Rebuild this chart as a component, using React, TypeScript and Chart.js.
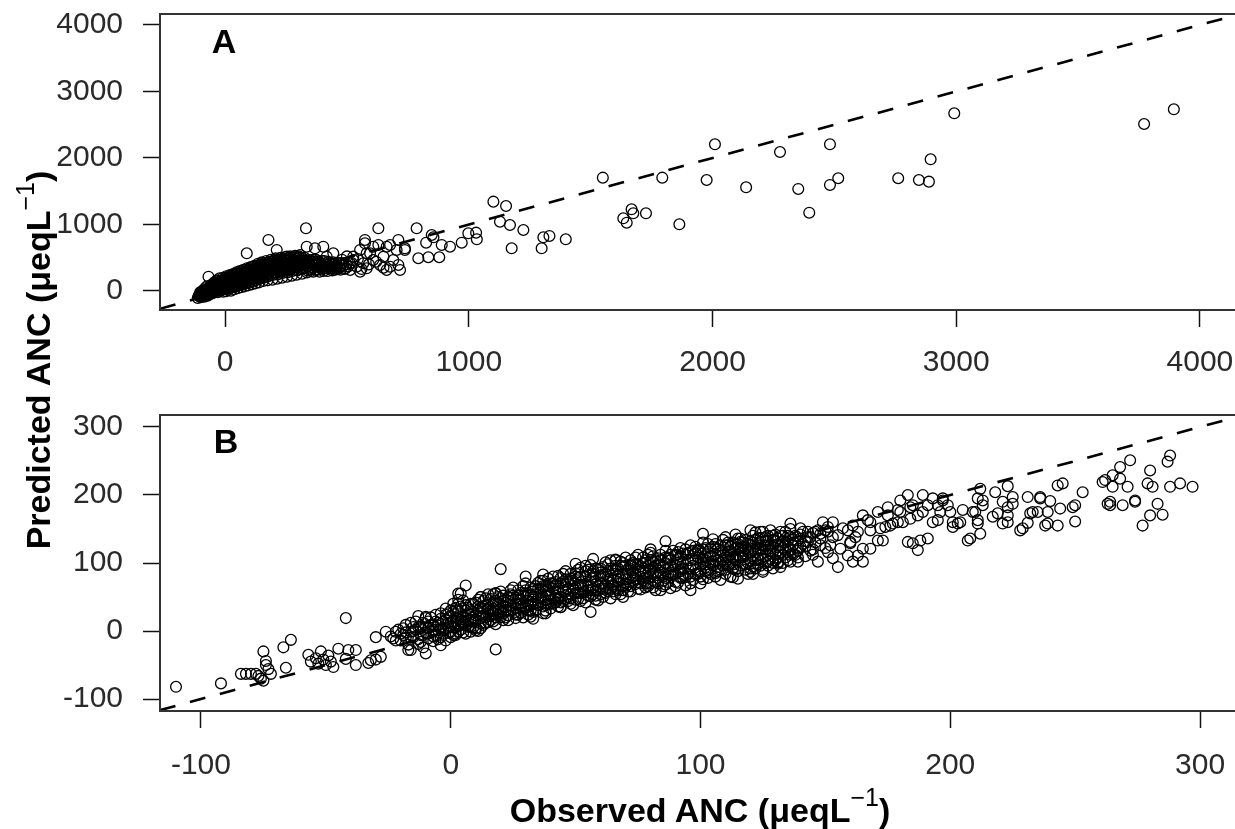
import React, { useEffect, useRef } from 'react';
import { Chart, registerables } from 'chart.js';

Chart.register(...registerables);

const FONT = '"Liberation Sans", Arial, Helvetica, sans-serif';

// ---------------- Panel A (full range) ----------------
const ticksA = [0, 1000, 2000, 3000, 4000];
const xRangeA = [-267, 4226];
const yRangeA = [-286, 4165];
const oneToOneA = [-267, 4300];

// dense wedge near the origin
const aWedge: [number, number][] = [
  [-112,-105],[-105,-80],[-98,-40],[-100,-95],[-92,-60],[-88,-20],[-85,-85],[-80,10],[-78,-50],[-72,-70],[-70,30],[-66,-15],[-62,60],[-60,-45],[-55,15],[-52,95],[-50,-30],[-46,50],[-42,-5],[-40,120],[-36,80],[-33,25],[-30,-20],[-28,150],[-24,100],[-20,55],[-18,5],[-14,130],[-10,170],[-8,-10],[-6,80],[-2,30],[0,120],[2,190],[4,-5],[6,65],[9,150],[12,20],[14,100],[16,210],[19,45],[22,170],[24,5],[27,120],[30,240],[32,70],[35,185],[38,25],[40,140],[43,260],[45,90],[48,210],[51,40],[54,160],[57,280],[60,110],[62,230],[65,55],[68,180],[71,300],[74,130],[77,250],[80,70],[83,200],[86,320],[89,150],[92,270],[95,85],[98,220],[101,340],[104,165],[107,290],[110,100],[113,240],[116,360],[119,180],[122,310],[125,115],[128,255],[131,380],[134,195],[137,330],[140,130],[143,270],[146,400],[150,210],[153,345],[156,150],[160,290],[164,420],[167,230],[171,360],[174,160],[178,300],[182,440],[186,240],[190,380],[194,170],[198,320],[202,460],[206,260],[210,400],[214,185],[218,335],[222,470],[226,275],[230,410],[234,200],[238,350],[242,480],[246,290],[250,420],[254,215],[258,365],[262,500],[266,305],[270,440],[274,230],[278,380],[282,510],[286,320],[290,455],[294,245],[298,395],[302,520],[306,330],[310,465],[316,260],[320,410],[326,500],[330,345],[336,280],[340,440],[346,380],[352,300],[358,470],[364,410],[370,320],[376,440],[382,360],[388,290],[394,400],[400,330],[408,450],[414,370],[420,300],[428,410],[436,340],[444,430],[452,320],[460,390],[470,350],[478,420],[488,330],[496,400]
];

const aWedge2: [number, number][] = [
  [-108,-70],[-102,-20],[-95,-75],[-90,10],[-86,-45],[-82,40],[-76,-25],[-74,70],[-68,-55],[-65,40],[-61,-10],[-58,90],[-54,-35],[-50,60],[-47,5],[-44,130],[-39,30],[-36,-15],[-34,160],[-31,55],[-27,10],[-25,120],[-22,190],[-19,80],[-16,30],[-12,150],[-9,200],[-6,40],[-3,110],[0,60],[3,160],[5,220],[8,95],[11,40],[13,180],[15,130],[18,75],[20,240],[23,135],[25,50],[28,200],[31,105],[33,255],[36,150],[39,60],[41,210],[44,120],[47,280],[49,170],[52,80],[55,230],[58,140],[61,300],[63,190],[66,90],[69,250],[72,160],[75,320],[78,210],[81,110],[84,270],[87,180],[90,340],[93,230],[96,120],[99,290],[102,200],[105,360],[108,250],[111,140],[114,310],[117,220],[120,380],[123,270],[126,160],[129,330],[132,240],[135,410],[138,290],[141,180],[144,350],[148,260],[151,430],[155,300],[158,200],[162,380],[165,270],[169,450],[172,330],[176,220],[180,400],[184,300],[188,470],[192,350],[196,240],[200,420],[204,320],[208,490],[212,360],[216,250],[220,440],[224,330],[228,500],[232,380],[236,270],[240,450],[244,340],[248,510],[252,390],[256,280],[260,460],[264,350],[268,520],[272,400],[276,300],[280,470],[284,360],[288,530],[292,420],[296,310],[300,480],[304,370],[308,540],[312,430],[318,340],[322,480],[328,380],[334,460],[338,310],[344,420],[350,350],[356,430],[362,290],[368,380],[374,470],[380,320],[386,420],[392,350],[398,450],[404,300],[410,400],[418,340],[424,440],[432,370],[440,310],[448,400],[456,350],[466,420],[474,320],[484,380],[494,340]
];

const aFill: [number, number][] = [
  [-104,-60],[-96,-15],[-90,-70],[-84,-10],[-79,-30],[-75,20],[-69,-40],[-64,10],[-59,50],[-56,-20],[-51,30],[-48,75],[-44,0],[-40,55],[-37,105],[-32,40],[-29,85],[-26,135],[-22,25],[-18,100],[-15,60],[-11,115],[-8,160],[-4,75],[-1,140],[2,100],[5,175],[8,40],[10,125],[13,70],[16,160],[19,110],[21,200],[24,90],[27,150],[29,215],[32,120],[35,80],[37,200],[40,165],[43,105],[46,240],[48,140],[51,190],[54,110],[57,225],[60,170],[63,260],[65,130],[68,215],[71,155],[74,280],[77,195],[80,145],[83,240],[86,170],[89,290],[92,200],[95,255],[98,160],[101,310],[104,230],[107,190],[110,280],[113,200],[116,320],[119,250],[122,210],[125,340],[128,290],[131,230],[134,360],[137,260],[140,310],[143,220],[146,370],[150,280],[153,240],[156,400],[160,330],[164,260],[168,390],[172,290],[176,420],[180,340],[184,270],[188,410],[192,310],[196,440],[200,360],[204,280],[208,430],[212,330],[216,460],[220,380],[224,300],[228,440],[232,350],[236,470],[240,400],[244,320],[248,460],[252,350],[256,490],[260,410],[264,330],[268,480],[272,370],[276,450],[280,400],[284,500],[288,390],[292,480],[296,350],[300,430],[305,500],[310,380],[316,450],[322,360],[330,420],[338,370],[346,460],[354,330],[362,440],[372,400],[384,450],[396,380],[406,340],[416,420],[426,360],[438,400],[450,370],[462,330]
];

// looser cloud just right of the wedge
const aCloud: [number, number][] = [
  [526,466],[540,365],[567,416],[513,316],[554,290],[581,341],[608,466],[636,391],[663,316],[690,466],[677,692],[629,692],[574,717],[595,567],[704,617],[718,316],[500,520],[520,420],[545,480],[560,330],[590,400],[620,440],[650,350],[480,470],[505,370]
];

// individually visible circles
const aSpread: [number, number][] = [
  [-68,215],[89,567],[178,767],[212,617],[332,943],[335,666],[369,642],[403,666],[444,567],[458,365],[513,416],[574,767],[608,666],[629,943],[650,516],[677,365],[711,391],[663,666],[711,767],[738,642],[581,567],[554,617],[526,516],[376,416],[417,516],[253,516],[280,416],
  [738,617],[786,943],[793,492],[834,507],[879,507],[825,726],[848,842],[855,807],[889,692],[923,666],[971,726],[998,867],[1030,877],[1033,777],[1101,1343],[1153,1278],[1128,1042],[1169,992],[1224,917],[1176,642],[1299,642],[1306,807],[1331,827],[1398,777],[1550,1704],[1634,1093],[1648,1027],[1668,1228],[1675,1168],[1727,1168],[1794,1704],[1864,1003],[1976,1669],[2010,2206],[2138,1559],[2277,2090],[2352,1534],[2397,1177],
  [2482,2206],[2482,1594],[2516,1695],[2762,1695],[2847,1669],[2888,1644],[2895,1980],[2992,2672],[3771,2511],[3893,2732]
];

// ---------------- Panel B (zoomed range) ----------------
const ticksB = [-100, 0, 100, 200, 300];
const xRangeB = [-116.4, 322];
const yRangeB = [-117.6, 317.6];
const oneToOneB = [-116.4, 340];

const bTail: [number, number][] = [
  [-110,-82],[-92,-77],[-84,-63],[-82,-63],[-80,-63],[-78,-63],[-75,-30],[-74,-44],[-74,-50],[-73,-56],[-77,-66],[-76,-70],[-75,-73],[-72,-63],[-67,-24],[-64,-13],[-66,-54],[-42,19],
  [-57,-35],[-56,-45],[-54,-40],[-53,-48],[-52,-30],[-51,-42],[-50,-50],[-49,-36],[-48,-45],[-47,-53],[-45,-26],[-41,-28],[-42,-41],[-38,-28],[-38,-50],[-33,-47],[-30,-42],[-30,-9],[-26,-1],[-22,-1],[-16,-28],[-13,22],
  [-23,-11],[-20,-4],[-15,-9],[-12,6],[-10,21],[-7,8],[-4,26],[-2,16],[1,6],[2,30],[-17,-28],[-10,-33],[-4,-21],[0,-9],[3,55],[3,40],[-28,-38],[-32,-43],[18,-27],[2,-4],[10,1]
];

const bBand: [number, number][] = [
  [-22,-14],[-21,2],[-19,-6],[-18,9],[-17,-20],[-16,-1],[-14,14],[-13,-12],[-12,4],[-11,-24],[-10,19],[-9,-4],[-8,9],[-7,-15],[-6,24],[-5,1],[-4,-9],[-3,14],[-2,33],[-1,-3],[0,22],[0,7],[1,40],[2,-6],[2,14],[3,29],[4,2],[5,20],[5,45],[6,9],[7,34],[8,-1],[8,24],[9,14],[10,42],[10,4],[11,30],[12,19],[12,50],[13,9],[14,38],[15,26],[15,13],[16,47],[17,33],[18,20],[18,56],[19,41],[20,27],[21,16],[21,52],[22,35],[23,44],[23,23],[24,60],[25,31],[26,49],[26,19],[27,39],[28,56],[28,27],[29,66],[30,44],[30,34],[31,24],[32,52],[33,62],[33,40],[34,30],[35,71],[35,48],[36,57],[37,36],[37,26],[38,66],[38,45],[39,77],[40,53],[40,33],[41,62],[42,42],[42,72],[43,81],[44,50],[44,35],[45,59],[46,68],[46,88],[47,44],[48,77],[48,54],[49,38],[50,64],[50,85],[51,47],[52,72],[52,93],[53,57],[54,42],[54,80],[55,66],[56,51],[56,97],[57,88],[58,60],[58,74],[59,45],[60,82],[60,54],[61,94],[62,68],[62,101],[63,58],[64,77],[64,48],[65,89],[66,63],[66,105],[67,72],[68,54],[68,96],[69,84],[70,65],[70,108],[71,76],[72,58],[72,91],[73,100],[74,69],[74,82],[75,112],[76,61],[76,95],[77,74],[78,87],[78,104],[79,66],[80,115],[80,80],[81,93],[82,60],[82,72],[83,107],[84,86],[84,98],[85,66],[86,118],[86,78],[87,91],[88,104],[88,63],[89,83],[90,111],[90,96],[91,71],[92,122],[92,88],[93,100],[94,67],[94,79],[95,114],[96,92],[96,126],[97,75],[98,105],[98,84],[99,118],[100,70],[100,97],[101,130],[102,88],[102,110],[103,78],[104,122],[104,100],[105,135],[106,85],[106,113],[107,94],[108,126],[108,75],[109,104],[110,138],[110,90],[111,117],[112,80],[112,100],[113,130],[114,110],[114,142],[115,88],[116,122],[117,99],[118,134],[118,112],[119,84],[120,127],[121,95],[122,145],[122,116],[123,105],[124,137],[125,90],[126,125],[127,112],[128,148],[129,100],[130,132],[131,118],[132,94],[133,140],[134,108],[135,124],[136,150],[137,113],
  [20,91],[6,67],[4,55],[12,50],[18,55],[30,80],[37,83],[32,21],[38,26],[56,28],[50,99],[57,106],[64,104],[66,104],[80,120],[86,132],[84,60],[96,60],[44,35],[69,50],[33,18],[113,79],[121,84]
];

const bBand2: [number, number][] = [
  [-24,-8],[-20,-14],[-18,-2],[-15,6],[-13,-19],[-11,12],[-9,-11],[-8,20],[-6,-6],[-5,12],[-3,2],[-2,-14],[-1,26],[0,-1],[1,14],[2,34],[3,8],[4,21],[5,-2],[6,38],[7,16],[8,31],[9,5],[10,23],[11,46],[12,11],[13,36],[14,20],[15,54],[16,30],[17,14],[18,44],[19,24],[20,58],[21,36],[22,20],[23,50],[24,30],[25,64],[26,40],[27,24],[28,46],[29,34],[30,70],[31,52],[32,30],[33,46],[34,66],[35,38],[36,74],[37,50],[38,30],[39,60],[40,44],[41,80],[42,52],[43,36],[44,70],[45,84],[46,47],[47,62],[48,40],[49,74],[50,56],[51,90],[52,44],[53,68],[54,96],[55,52],[56,82],[57,62],[58,46],[59,90],[60,70],[61,50],[62,84],[63,98],[64,62],[65,76],[66,54],[67,92],[68,102],[69,66],[70,84],[71,58],[72,98],[73,74],[74,108],[75,62],[76,88],[77,100],[78,70],[79,112],[80,90],[81,64],[82,104],[83,78],[84,112],[85,94],[86,68],[87,106],[88,82],[89,118],[90,72],[91,98],[92,110],[93,78],[94,120],[95,92],[96,70],[97,106],[98,124],[99,84],[100,114],[101,76],[102,98],[103,128],[104,90],[105,110],[106,80],[107,120],[108,100],[109,134],[110,84],[111,108],[112,124],[113,92],[114,104],[115,136],[116,96],[117,118],[118,90],[119,128],[120,104],[121,140],[122,92],[123,122],[124,112],[125,146],[126,100],[127,132],[128,118],[129,92],[130,142],[131,108],[132,126],[133,100],[134,146],[135,132],[136,112],[138,140],[139,118],[141,128],[142,110],[144,138],[145,120],[147,148],[148,126]
];

const bCore: [number, number][] = [
  [-15,0],[-10,5],[-5,8],[0,12],[3,18],[6,24],[9,28],[12,34],[15,38],[18,40],[21,44],[24,48],[27,52],[30,56],[33,58],[36,62],[39,66],[42,68],[45,72],[48,74],[51,78],[54,80],[57,84],[60,86],[63,88],[66,90],[69,94],[72,96],[75,98],[78,100],[81,102],[84,104],[87,108],[90,112],[93,114],[96,116],[99,120],[102,122],[105,124],[108,118],[111,126],[114,128],[117,130],[120,132],[123,136],[126,138],[129,140],
  [-12,-6],[-7,-1],[-2,3],[4,9],[8,16],[13,22],[17,26],[22,30],[26,34],[31,38],[35,42],[39,40],[43,48],[47,50],[52,56],[56,60],[61,62],[65,68],[70,70],[74,76],[79,78],[83,82],[88,86],[92,90],[97,96],[101,100],[106,104],[110,108],[115,112],[119,116],[124,120],[128,126]
];

const bFill: [number, number][] = [
  [-19,4],[-16,-10],[-14,2],[-12,-16],[-10,-2],[-9,14],[-7,2],[-5,-12],[-4,18],[-3,-4],[-1,6],[0,30],[1,-6],[2,20],[3,-1],[4,36],[5,12],[6,-4],[7,26],[8,6],[9,40],[10,16],[11,0],[12,26],[13,44],[14,12],[15,32],[16,22],[17,42],[18,10],[19,32],[20,48],[21,26],[22,42],[23,16],[24,38],[25,52],[26,28],[27,46],[28,36],[29,20],[30,60],[31,44],[32,38],[33,28],[34,54],[35,62],[36,44],[37,66],[38,38],[39,52],[40,70],[41,40],[42,58],[43,46],[44,78],[45,44],[46,58],[47,72],[48,48],[49,62],[50,80],[51,56],[52,66],[53,48],[54,88],[55,60],[56,72],[57,54],[58,92],[59,66],[60,62],[61,80],[62,56],[63,72],[64,92],[65,66],[66,84],[67,60],[68,76],[69,100],[70,76],[71,90],[72,66],[73,86],[74,98],[75,72],[76,80],[77,92],[78,64],[79,96],[80,104],[81,84],[82,96],[83,70],[84,104],[85,80],[86,100],[87,72],[88,112],[89,90],[90,84],[91,106],[92,78],[93,92],[94,112],[95,84],[96,104],[97,118],[98,90],[99,108],[100,88],[101,120],[102,104],[103,86],[104,110],[105,96],[106,128],[107,104],[108,90],[109,116],[110,100],[111,130],[112,112],[113,98],[114,122],[115,104],[116,136],[117,108],[118,122],[119,100],[120,116],[121,130],[122,104],[123,128],[124,96],[125,120],[126,110],[127,140],[128,106],[129,124],[130,112],[131,136],[132,116],[133,122],[134,130],[135,104],[136,138],[137,126],[138,112],[140,124],[141,146],[142,132],[144,118],[145,144],[146,130],[148,136],[150,122],[150,148]
];

const bFill2: [number, number][] = [
  [-18,-10],[-16,12],[-13,6],[-11,-6],[-9,4],[-7,-8],[-6,14],[-4,4],[-2,24],[-1,12],[1,28],[2,6],[3,46],[4,14],[6,30],[7,6],[8,40],[9,20],[11,36],[12,4],[13,28],[14,48],[16,16],[17,54],[18,30],[19,50],[20,20],[22,46],[23,30],[24,54],[26,24],[27,60],[28,40],[29,52],[31,30],[32,64],[33,50],[34,40],[36,48],[37,74],[38,58],[40,40],[41,70],[42,48],[43,62],[44,42],[46,76],[47,54],[48,84],[50,46],[51,68],[52,80],[53,62],[55,90],[56,66],[57,78],[58,52],[60,92],[61,70],[62,62],[63,80],[65,58],[66,96],[67,80],[69,60],[70,96],[71,68],[72,104],[73,80],[75,90],[76,70],[77,108],[78,78],[80,70],[81,110],[82,86],[83,96],[85,74],[86,108],[87,84],[88,96],[90,66],[91,116],[92,94],[93,84],[95,104],[96,80],[97,96],[98,114],[100,80],[101,106],[102,94],[103,116],[104,84],[105,102],[106,122],[107,88],[108,110],[109,96],[110,126],[111,96],[112,118],[113,108],[114,90],[115,128],[116,108],[117,124],[118,98],[119,120],[120,92],[121,110],[122,134],[123,98],[124,126],[125,106],[126,132],[127,96],[128,114],[129,134],[130,104],[131,126],[132,140],[133,112],[134,120],[135,140],[136,120],[137,134],[139,108],[140,142],[142,124],[143,138],[145,112],[146,146]
];

const bSparse: [number, number][] = [
  [101,143],[120,148],[124,146],[116,131],[121,121],[127,126],[129,116],[117,111],[123,107],[127,102],[131,99],[113,92],[120,87],[115,77],[125,87],
  [132,146],[136,158],[140,151],[143,146],[133,131],[137,126],[140,136],[135,116],[139,121],[136,102],[139,102],[143,131],[147,102],[131,101],
  [149,160],[153,160],[151,146],[155,141],[157,151],[161,155],[165,170],[168,160],[163,146],[160,131],[152,126],[151,116],[156,121],[153,107],[159,111],[163,111],[165,121],[168,121],[155,94],[161,102],[165,102],[148,143],[151,153],[159,148],[162,138],[153,138],[160,129],[171,133],[168,148],[167,163],
  [171,175],[175,170],[172,151],[176,155],[180,175],[179,160],[183,200],[185,185],[189,200],[181,160],[184,165],[187,170],[173,133],[183,131],[185,129],[188,133],[191,136],[187,119],[193,195],[197,195],[196,175],[193,160],[199,185],[200,175],[195,185],[201,160],[205,178],[209,175],[211,195],[212,209],[208,136],[204,160],[174,153],[177,158],[175,182],[180,192],[179,178],[184,182],[189,175],[203,158],[201,153],[195,163],[197,192],[191,185],
  [207,133],[212,143],[211,158],[210,175],[213,192],[218,204],[223,213],[221,190],[225,187],[223,170],[219,173],[223,160],[217,168],[225,197],[223,182],[221,158],[213,185],[211,163],
  [228,148],[231,159],[231,197],[236,197],[240,191],[233,175],[235,175],[239,175],[244,180],[239,158],[243,155],[250,161],[250,185],[249,182],[243,214],[245,217],[253,204],[236,195],[232,173],[229,151],[238,155],
  [262,222],[265,229],[268,241],[272,251],[265,212],[268,224],[271,212],[261,219],[263,187],[264,185],[269,185],[274,190],[264,190],[274,192],
  [280,236],[279,217],[281,212],[283,187],[285,171],[280,170],[277,155],[288,258],[287,249],[288,212],[292,217],[297,212]
];

const framePlugin = {
  id: 'frameBox',
  afterDatasetsDraw(chart: any) {
    const { ctx, chartArea } = chart;
    ctx.save();
    ctx.strokeStyle = '#333';
    ctx.lineWidth = 2;
    ctx.strokeRect(chartArea.left, chartArea.top, chartArea.right - chartArea.left, chartArea.bottom - chartArea.top);
    ctx.restore();
  },
};

function buildConfig(
  points: [number, number][],
  line: number[],
  xr: number[],
  yr: number[],
  ticks: number[],
  padTop: number,
  xAxisHeight: number,
  xPad: number
): any {
  const tickFont = { family: FONT, size: 30 };
  return {
    type: 'scatter',
    data: {
      datasets: [
        {
          data: line.map((v) => ({ x: v, y: v })),
          showLine: true,
          borderColor: '#000',
          borderWidth: 2.6,
          borderDash: [16, 15],
          borderCapStyle: 'butt',
          pointRadius: 0,
          pointHoverRadius: 0,
          clip: 0,
        },
        {
          data: points.map(([x, y]) => ({ x, y })),
          showLine: false,
          pointRadius: 5.4,
          pointHoverRadius: 5.4,
          pointBorderWidth: 1.3,
          pointBorderColor: '#000',
          pointBackgroundColor: 'rgba(0,0,0,0)',
          clip: 0,
        },
      ],
    },
    options: {
      responsive: false,
      animation: false,
      events: [],
      layout: { padding: { top: padTop, right: 15, left: 0, bottom: 0 } },
      plugins: { legend: { display: false }, tooltip: { enabled: false } },
      scales: {
        x: {
          type: 'linear',
          min: xr[0],
          max: xr[1],
          afterBuildTicks: (s: any) => {
            s.ticks = ticks.map((v) => ({ value: v }));
          },
          afterFit: (s: any) => {
            s.height = xAxisHeight;
            s.paddingLeft = 0;
            s.paddingRight = 0;
          },
          grid: { drawOnChartArea: false, drawTicks: true, tickLength: 17, tickColor: '#111', tickWidth: 1.5 },
          border: { display: false },
          ticks: {
            padding: xPad,
            color: '#2a2a2a',
            font: tickFont,
            autoSkip: false,
            maxRotation: 0,
            callback: (v: any) => String(v),
          },
        },
        y: {
          type: 'linear',
          min: yr[0],
          max: yr[1],
          afterBuildTicks: (s: any) => {
            s.ticks = ticks.map((v) => ({ value: v }));
          },
          afterFit: (s: any) => {
            s.width = 160;
            s.paddingTop = 0;
            s.paddingBottom = 0;
          },
          grid: { drawOnChartArea: false, drawTicks: true, tickLength: 17, tickColor: '#111', tickWidth: 1.5 },
          border: { display: false },
          ticks: {
            padding: 20,
            color: '#2a2a2a',
            font: tickFont,
            autoSkip: false,
            callback: (v: any) => String(v),
          },
        },
      },
    },
    plugins: [framePlugin],
  };
}

const titleStyle: React.CSSProperties = {
  position: 'absolute',
  fontFamily: FONT,
  fontWeight: 700,
  fontSize: 34,
  lineHeight: '34px',
  whiteSpace: 'nowrap',
  color: '#000',
};

const supStyle: React.CSSProperties = {
  fontSize: '25px',
  fontWeight: 400,
  position: 'relative',
  top: '-16px',
  verticalAlign: 'baseline',
  lineHeight: 0,
};

export default function App() {
  const canvasA = useRef<HTMLCanvasElement>(null);
  const canvasB = useRef<HTMLCanvasElement>(null);

  useEffect(() => {
    const ptsA = [...aWedge, ...aWedge2, ...aFill, ...aCloud, ...aSpread];
    const ptsB = [...bTail, ...bBand, ...bBand2, ...bCore, ...bFill, ...bFill2, ...bSparse];
    const chartA = new Chart(canvasA.current as HTMLCanvasElement, buildConfig(ptsA, oneToOneA, xRangeA, yRangeA, ticksA, 14, 70, 18));
    const chartB = new Chart(canvasB.current as HTMLCanvasElement, buildConfig(ptsB, oneToOneB, xRangeB, yRangeB, ticksB, 35, 118, 20));
    return () => {
      chartA.destroy();
      chartB.destroy();
    };
  }, []);

  return (
    <div style={{ position: 'fixed', left: 0, top: 0, width: 1235, height: 829, overflow: 'hidden', background: '#fff' }}>
      <canvas ref={canvasA} width={1270} height={380} style={{ position: 'absolute', left: 0, top: 0 }} />
      <canvas ref={canvasB} width={1270} height={449} style={{ position: 'absolute', left: 0, top: 380 }} />
      <div style={{ ...titleStyle, left: 194, top: 24, width: 60, textAlign: 'center' }}>A</div>
      <div style={{ ...titleStyle, left: 196, top: 424, width: 60, textAlign: 'center' }}>B</div>
      <div style={{ ...titleStyle, left: 450, top: 793, width: 500, textAlign: 'center' }}>
        Observed ANC (μeqL<sup style={supStyle}>−1</sup>)
      </div>
      <div
        style={{
          ...titleStyle,
          left: 38 - 250,
          top: 360 - 17,
          width: 500,
          height: 34,
          textAlign: 'center',
          transform: 'rotate(-90deg)',
        }}
      >
        Predicted ANC (μeqL<sup style={supStyle}>−1</sup>)
      </div>
    </div>
  );
}
